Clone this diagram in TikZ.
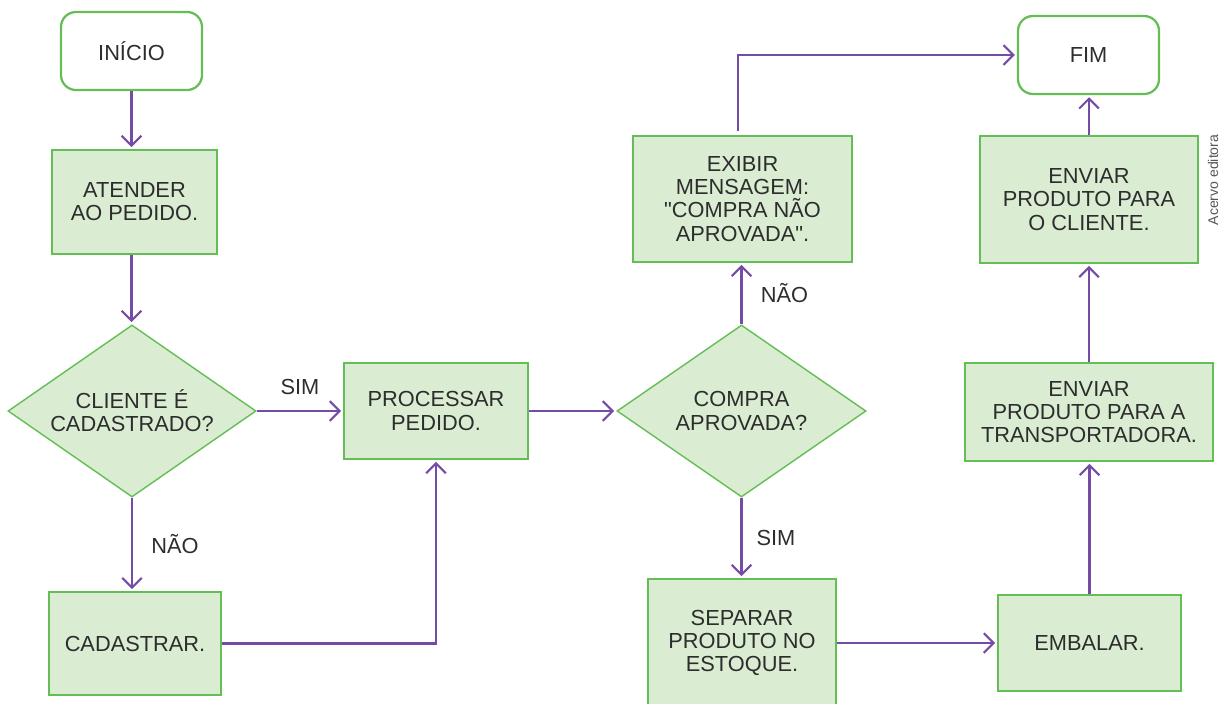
\documentclass[tikz,border=0pt]{standalone}
\usepackage{fontspec}
\setmainfont{Liberation Sans}
\usetikzlibrary{arrows.meta,positioning,shapes.geometric}
\definecolor{edge}{RGB}{100,190,85}
\definecolor{leaf}{RGB}{218,236,210}
\definecolor{flow}{RGB}{117,76,165}
\definecolor{ink}{RGB}{45,45,45}

\begin{document}
\begin{tikzpicture}[x=0.025cm,y=-0.025cm,
    txt/.style={font=\fontsize{15.5}{16.5}\selectfont,text=ink,align=center,
                inner sep=0pt},
    term/.style={txt,rectangle,rounded corners=0.375cm,draw=edge,line width=1.6pt,
                 minimum width=3.525cm,minimum height=1.95cm},
    task/.style={txt,rectangle,draw=edge,fill=leaf,line width=1pt},
    ask/.style={txt,diamond,aspect=1.45,draw=edge,fill=leaf,line width=1pt,
                minimum width=6.2cm,minimum height=4.3cm},
    arr/.style={-{Straight Barb[length=7pt,width=14pt]},flow,line width=1.5pt,
                shorten >=1.5pt},
    lbl/.style={font=\fontsize{15.5}{16.5}\selectfont,text=ink,inner sep=0pt}]
    \useasboundingbox (0,0) rectangle (1220,703);
    % left column
    \node[term] (start) at (131.5,51) {INÍCIO};
    \node[task,minimum width=4.125cm,minimum height=2.6cm] (serve) at (134.5,202)
      {ATENDER\\AO PEDIDO.};
    \node[ask] (known) at (132,411) {CLIENTE É\\CADASTRADO?};
    \node[task,minimum width=4.3cm,minimum height=2.575cm] (register) at (135,643.5)
      {CADASTRAR.};
    \node[task,minimum width=4.6cm,minimum height=2.4cm] (process) at (436,411)
      {PROCESSAR\\PEDIDO.};
    % middle column
    \node[ask,minimum width=6.225cm] (approved) at (741.5,411) {COMPRA\\APROVADA?};
    \node[task,minimum width=5.475cm,minimum height=3.15cm] (message) at (742.5,199)
      {EXIBIR\\MENSAGEM:\\\textquotedbl COMPRA NÃO\\APROVADA\textquotedbl.};
    \node[task,minimum width=4.7cm,minimum height=3.2cm] (pick) at (742,643)
      {SEPARAR\\PRODUTO NO\\ESTOQUE.};
    % right column
    \node[task,minimum width=4.575cm,minimum height=2.4cm] (pack) at (1089.5,643)
      {EMBALAR.};
    \node[task,minimum width=6.2cm,minimum height=2.45cm] (carrier) at (1089,412)
      {ENVIAR\\PRODUTO PARA A\\TRANSPORTADORA.};
    \node[task,minimum width=5.45cm,minimum height=3.175cm] (ship) at (1089,199.5)
      {ENVIAR\\PRODUTO PARA\\O CLIENTE.};
    \node[term] (stop) at (1088.5,55) {FIM};
    \node[font=\fontsize{10}{12}\selectfont,text=ink!80,rotate=90] (credit)
      at (1213,180) {Acervo editora};
    % connectors
    \draw[arr] (start.south) -- (start.south |- serve.north);
    \draw[arr] (start.south |- serve.south) -- (start.south |- known.north);
    \draw[arr] (known) -- node[lbl,above=11pt] {SIM} (process);
    \draw[arr] (known.south) -- node[lbl,right=13pt] {NÃO} (known.south |- register.north);
    \draw[arr] (register.east) -| (process.south);
    \draw[arr] (process) -- (approved);
    \draw[arr] (approved.north) -- node[lbl,right=13pt] {NÃO}
      (approved.north |- message.south);
    \draw[arr] (approved.south) -- node[lbl,right=10pt] {SIM}
      (approved.south |- pick.north);
    \draw[arr] ([xshift=-3pt,yshift=3pt]message.north) |- (stop.west);
    \draw[arr] (pick) -- (pack);
    \draw[arr] (pack.north) -- (pack.north |- carrier.south);
    \draw[arr] (carrier) -- (ship);
    \draw[arr] (ship.north) -- (ship.north |- stop.south);
\end{tikzpicture}
\end{document}
